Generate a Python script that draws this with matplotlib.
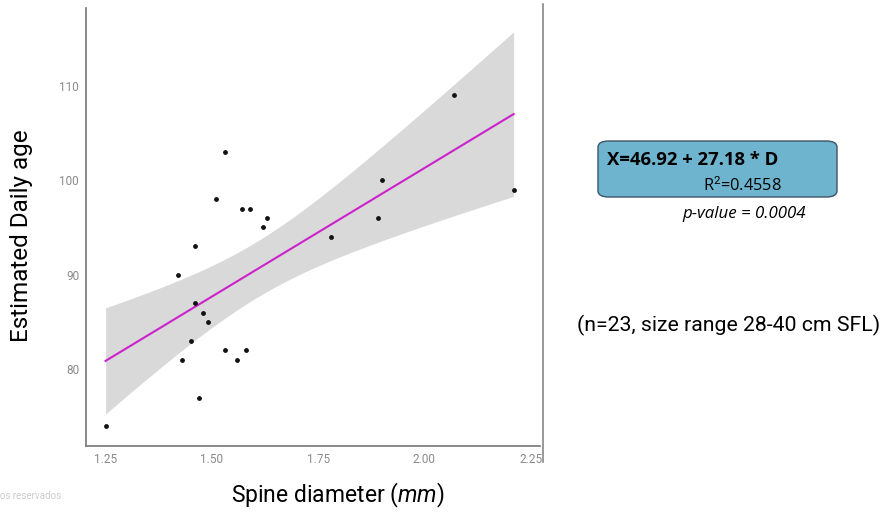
import numpy as np
import matplotlib.pyplot as plt
from matplotlib.patches import FancyBboxPatch
from matplotlib.lines import Line2D

# Spine diameter (mm) vs estimated daily age
diameter = [1.53, 1.51, 1.57, 1.59, 1.63, 1.62, 1.46, 1.42, 1.46, 1.48, 1.49, 1.45,
            1.53, 1.58, 1.43, 1.56, 1.47, 1.25, 2.07, 1.90, 1.89, 1.78, 2.21]
age = [103, 98, 97, 97, 96, 95, 93, 90, 87, 86, 85, 83,
       82, 82, 81, 81, 77, 74, 109, 100, 96, 94, 99]

x_ticks = [1.25, 1.50, 1.75, 2.00, 2.25]
y_ticks = [80, 90, 100, 110]

intercept = 46.92
slope = 27.18
t_crit = 2.080  # t(0.975, df=21)

plt.rcParams['font.family'] = ['Roboto', 'DejaVu Sans']
plt.rcParams['mathtext.fontset'] = 'custom'
plt.rcParams['mathtext.it'] = 'Roboto:italic'
plt.rcParams['mathtext.rm'] = 'Roboto'

fig = plt.figure(figsize=(8.92, 5.12), dpi=100)
ax = fig.add_axes([86 / 892, 1 - 446 / 512, (540 - 86) / 892, (446 - 8) / 512])

# Fit line and 95% confidence band
x = np.array(diameter)
y = np.array(age)
n = len(x)
resid = y - (intercept + slope * x)
s = np.sqrt(np.sum(resid ** 2) / (n - 2))
sxx = np.sum((x - x.mean()) ** 2)
xs = np.linspace(x.min(), x.max(), 200)
fit = intercept + slope * xs
half = t_crit * s * np.sqrt(1 / n + (xs - x.mean()) ** 2 / sxx)

ax.fill_between(xs, fit - half, fit + half, color='#d9d9d9', lw=0, zorder=1)
ax.plot(xs, fit, color='#cc22cc', lw=1.5, zorder=2)
ax.scatter(x, y, s=6, color='#111111', zorder=3)

ax.set_xlim(1.204, 2.272)
ax.set_ylim(71.9, 118.2)
ax.set_xticks(x_ticks)
ax.set_xticklabels(['%.2f' % v for v in x_ticks])
ax.set_yticks(y_ticks)
ax.tick_params(length=0, labelsize=8.5, labelcolor='#8a8a8a', pad=5)

for side in ['top', 'right']:
    ax.spines[side].set_visible(False)
for side in ['left', 'bottom']:
    ax.spines[side].set_color('#777777')
    ax.spines[side].set_linewidth(1.2)

# Loose vertical rule on the right side of the plot
fig.add_artist(Line2D([543 / 892, 543 / 892], [1 - 4 / 512, 1 - 462 / 512],
                      color='#888888', lw=1.2))

fig.text(22 / 892, 1 - 236 / 512, 'Estimated Daily age', rotation=90,
         ha='center', va='center', fontsize=17.5)
fig.text(338 / 892, 1 - 495 / 512, 'Spine diameter ($\\it{mm}$)',
         ha='center', va='center', fontsize=16.5)

# Equation box
box = FancyBboxPatch((598 / 892, 1 - 197 / 512), (837 - 598) / 892, (197 - 141) / 512,
                     boxstyle='round,pad=0,rounding_size=0.012',
                     transform=fig.transFigure, facecolor='#6fb4cf',
                     edgecolor='#3d5566', lw=1.0)
fig.add_artist(box)
fig.text(607 / 892, 1 - 160 / 512, 'X=46.92 + 27.18 * D', fontsize=13.3,
         fontweight='bold', family=['Open Sans', 'DejaVu Sans'], va='center')
fig.text(703 / 892, 1 - 186 / 512, 'R$^2$=0.4558', fontsize=11.8,
         family=['Open Sans', 'DejaVu Sans'], va='center')
fig.text(682 / 892, 1 - 214 / 512, 'p-value = 0.0004', fontsize=12.2,
         style='italic', family=['Open Sans', 'DejaVu Sans'], va='center')

fig.text(577 / 892, 1 - 325 / 512, '(n=23, size range 28-40 cm SFL)',
         fontsize=15.3, va='center')

fig.text(0, 1 - 496 / 512, 'os reservados', fontsize=7, color='#cccccc', va='center')

fig.savefig('out.png', dpi=100)
